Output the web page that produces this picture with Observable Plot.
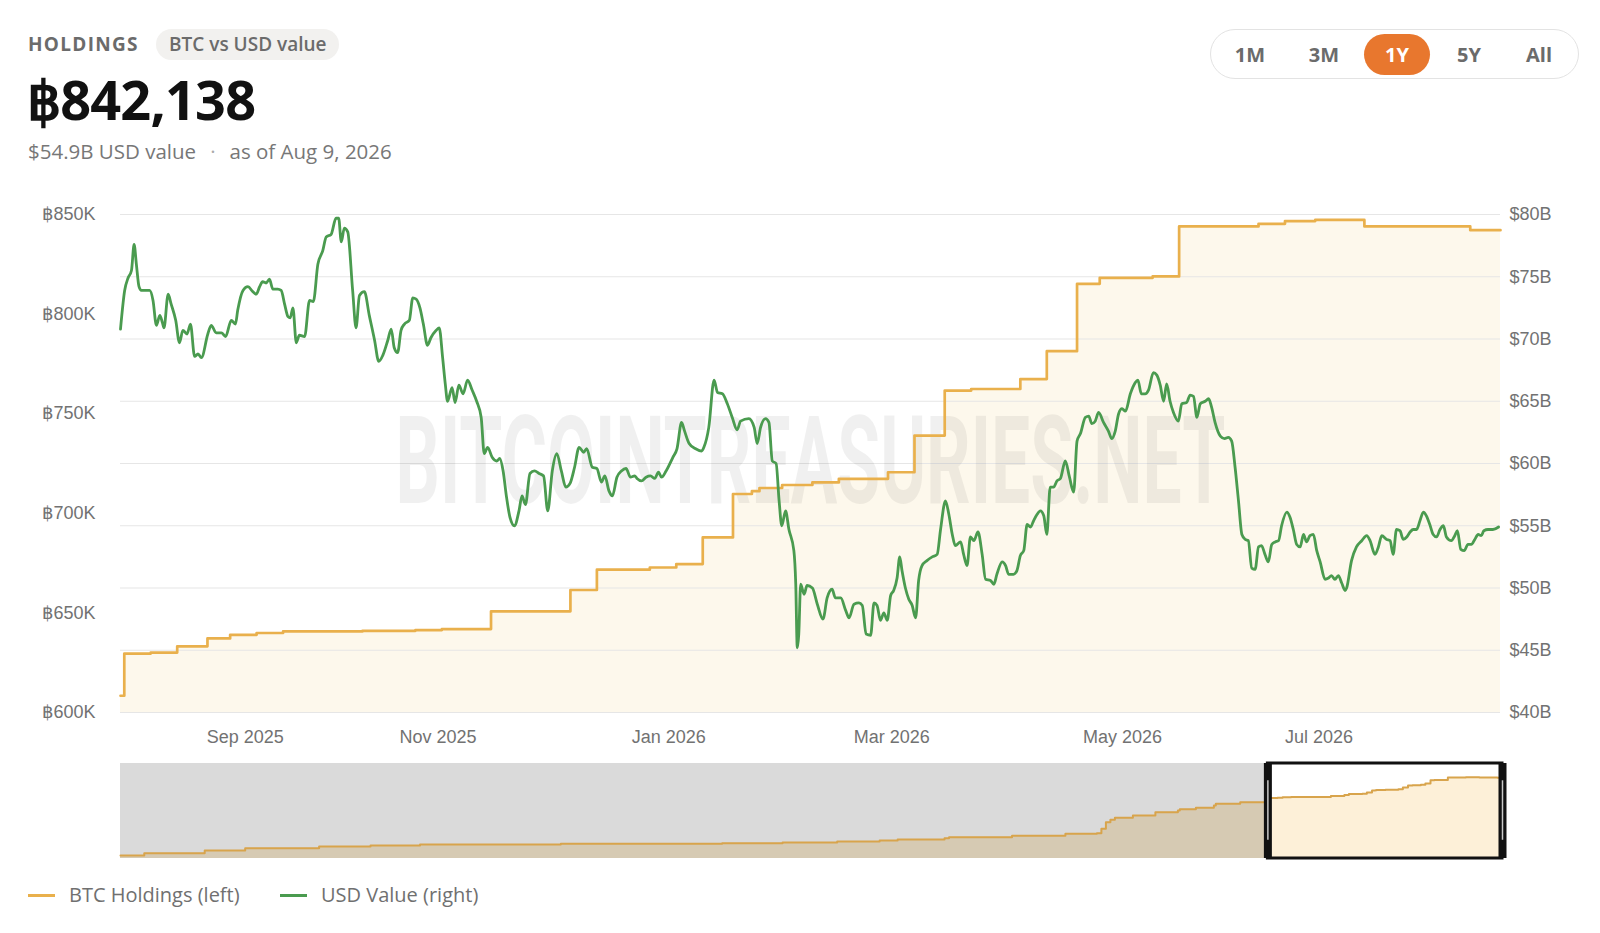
<!DOCTYPE html>
<html><head><meta charset="utf-8">
<script src="https://cdn.jsdelivr.net/npm/d3@7"></script>
<script src="https://cdn.jsdelivr.net/npm/@observablehq/plot@0.6"></script>
<style>
body{margin:0;background:#fff;}
#root{position:relative;width:1600px;height:933px;overflow:hidden;font-family:"Open Sans",sans-serif;}
.abs{position:absolute;white-space:nowrap;line-height:1;}
#main,#nav{position:absolute;left:0;}
#main{top:0;} #nav{top:750px;}
</style></head><body><div id="root"><div id="main"></div><div id="nav"></div></div>
<script>
// ---------- DATA ----------
const headline = { holdings: "฿842,138", usdValue: "$54.9B USD value", asOf: "as of Aug 9, 2026" };
const rangeButtons = ["1M", "3M", "1Y", "5Y", "All"];
const activeRange = "1Y";
const legendItems = ["BTC Holdings (left)", "USD Value (right)"];
const watermark = "BITCOINTREASURIES.NET";

// BTC holdings (step changes), 1Y window
const btcDates = ["2025-08-09","2025-08-10","2025-08-17","2025-08-24","2025-09-01","2025-09-07","2025-09-14","2025-09-21",
  "2025-10-12","2025-10-26","2025-11-02","2025-11-15","2025-12-06","2025-12-13","2025-12-27","2026-01-03","2026-01-10",
  "2026-01-18","2026-01-23","2026-01-25","2026-01-31","2026-02-08","2026-02-15","2026-02-28","2026-03-07","2026-03-15",
  "2026-03-22","2026-04-04","2026-04-11","2026-04-19","2026-04-25","2026-05-09","2026-05-16","2026-06-06","2026-06-13",
  "2026-06-21","2026-07-04","2026-08-01","2026-08-09"];
const btcHoldings = [608400,629600,630100,633200,637200,639000,639900,640700,
  641000,641400,641900,650800,661500,671700,672800,674500,687900,
  709700,711100,712700,714200,715500,717300,720600,739000,761600,
  762400,767400,781400,815200,818200,818900,844000,845300,846700,
  847300,844000,842138,842138];

// USD value of holdings (billions), days since 2025-08-09
const usdStartDate = "2025-08-09";
const usdDays = [0,1.1,2,2.9,3.6,4.2,4.9,5.5,7.7,8.6,9.5,10.4,11.1,11.5,12.6,13.4,14.6,15.6,16.5,17.6,18.5,19.6,20.5,21.4,
  23.1,24,25.3,26.7,27.8,29.3,30.4,31,32.4,33.7,35,35.9,36.8,37.6,38.5,39.4,40.3,41.6,42.5,43.4,44.3,44.9,45.6,46.5,47.3,
  48.7,50,51,52.2,53.5,54.4,55.7,57,57.7,58.4,59.2,60.1,61.4,62.3,63.2,64.5,65.8,67.2,68.3,69.4,70.7,71.6,72.4,73.3,74.2,
  75.1,76.4,77.3,78.2,79.2,80.1,81.2,82.1,83.5,84.3,85.2,85.9,86.5,87.7,88.5,89.5,90.6,91.8,93,94.2,95.4,96.2,97.1,98.3,
  99.5,100.3,101.2,102.1,103,104.2,105.4,106.2,107.1,108.3,109.5,110.7,111.9,113,114.2,115.4,116.6,117.8,118.9,120.1,
  121.3,122.5,123.3,124.8,126,127.2,128.1,129.2,130.1,131.3,132.5,133.7,134.9,136,136.6,137.8,139,140.2,141.3,142.3,
  143.1,144.3,146.1,147.2,148.4,149.2,150.4,152,153.7,154.3,155.6,157,157.9,159.2,160.5,161.8,163.1,164,166.2,167.6,
  168.4,169.3,170.6,171.5,172.4,173.4,174.2,174.9,175.9,176.8,178.1,178.6,179,179.4,179.9,180.8,181.6,183,184.3,185.8,
  186.9,188.2,189.1,190.5,191.8,192.7,194,195.3,196.2,197.2,198.4,199.3,200.1,201,201.9,202.8,203.7,204.5,205.4,206.1,
  206.7,207.6,208.5,209.4,210.3,211.1,212,213.3,214.7,216,216.9,218.2,219.1,220,220.8,222.2,223,223.9,224.8,225.7,226.8,
  227.9,228.8,230.1,231,231.8,233.2,234.1,234.9,236.2,237.1,238,238.9,239.8,240.7,241.5,242.4,243.3,244.2,245,245.9,
  246.8,247.7,248.6,249.9,251,252.1,253,253.9,255.2,256.1,256.9,257.8,258.7,260,261.3,262.2,263.1,264,264.9,265.8,267.1,
  268.4,269.1,270,271,271.9,273.2,274.1,275,275.9,276.7,277.6,278.5,279.8,280.7,282,282.9,283.8,284.7,285.6,286.9,287.8,
  288.6,289.5,290.9,292,293,293.9,294.8,295.7,296.6,297.5,298.3,299.2,300.1,301,301.8,302.7,303.6,304.5,305.4,306.3,
  307.1,308.5,309.3,310.2,311.1,312,312.9,313.7,314.6,315.5,316.4,317.3,318.6,319.5,320.3,321.2,322.1,323,323.9,324.3,
  325.6,326.9,328.3,329.6,330.5,331.8,332.7,333.6,334.9,335.8,336.6,337.5,338.4,339.3,340.2,341.1,341.9,342.8,343.7,
  344.6,345.4,346.3,347.2,348.1,349,349.9,350.7,352,352.9,353.6,354.5,355.4,356.4,357.3,358.2,359.1,359.9,360.6,361.7,
  363,364.5];
const usdValues = [70.8,73.9,74.9,75.5,77.6,76,74.2,73.9,73.9,73.1,71.1,71.9,71.3,70.9,73.6,72.8,71.5,69.7,70.7,70.4,71.2,68.6,68.8,68.5,
  70.4,71.1,70.5,70.5,70.2,71.5,71.2,72.3,73.9,74.2,73.8,73.6,74.2,74.6,74.5,74.8,74,74,73.9,72.8,71.8,71.7,72.5,69.7,70.3,
  70.2,73.1,73,76,77.1,78.2,78.4,79.7,79.7,77.8,78.9,78.6,73.9,70.9,73.5,73.8,71.9,69.9,68.2,68.7,69.9,70.8,69.3,68.9,70.7,
  71.2,71.5,73.3,73.2,72.5,71.2,69.5,70.1,70.7,70.9,68.5,66.4,65,66.1,64.9,66.3,65.6,66.7,65.9,65,63.7,60.8,61.3,60.5,
  60.2,60.4,59.4,57.3,55.7,55,56.2,57.4,56.7,59.2,59.4,59.2,59,56.2,59.4,60.8,59.4,58.1,58.4,59.7,
  61.3,60.9,61.2,59.7,59.6,58.5,59,57.8,57.4,58.9,59.4,59.6,58.9,59,58.8,58.6,58.9,59,58.8,59.3,
  58.9,59.4,60.5,61.2,63.3,62.6,61.6,61.2,61,61.3,62.9,66.7,65.7,65.6,64.8,63.7,62.7,63.4,63.6,62.9,
  61.6,62.9,63.6,63.3,60.2,60,57,55,56.2,54.7,53,50.3,45.2,46.3,50.3,49.5,50.2,50,48.7,47.5,
  49.2,49.9,49.2,49.2,48.2,47.6,48.7,48.8,48.6,46.3,46.2,48.8,48.6,47.4,48,47.4,49.4,49.8,50.8,52.5,
  51.4,50,49.1,48.6,47.6,50.6,51.8,52.2,52.5,52.7,54.7,57,55.9,54.3,53.4,53.7,52.7,51.8,54.1,53.8,54.5,
  52.7,50.7,50.6,50.3,51.1,52.1,51.8,51.1,51.1,51.4,52.6,53,55.1,54.9,55.4,55.9,56.2,55.8,54.3,58.1,
  58.1,58.6,58.8,60.2,58.9,57.7,61.8,62.4,63.7,63.8,63.2,63.4,64.1,63.3,62.6,62,62.6,64,64.4,64.2,65.6,
  66.5,66.7,65.6,65.6,65.9,67.3,67.1,66.3,65,66.4,65,64.1,63.4,64.8,64.9,65.5,65.4,63.7,64.8,65,65.2,
  64.5,63.3,62.2,62,62.1,61.8,59.7,57,54.3,53.9,53.8,51.6,51.5,53.3,53.4,52.7,52.1,53.5,53.7,53.8,
  55,56.1,55.7,54.7,53.5,53.3,54.3,53.7,54.2,54.3,53,52.1,50.7,50.8,51,50.7,51,50.4,49.8,50,
  52.2,53.3,53.8,54.2,53.8,52.7,53.3,54.2,53.9,53.8,52.7,54.7,54.6,53.9,54.1,54.5,54.7,54.7,55.4,
  56.1,55.8,55.1,54.3,54.1,54.7,55,54.1,53.8,54.2,54.6,53.1,53,53.5,53.5,53.9,54.3,54.2,54.6,54.7,
  54.7,54.9];

// Navigator: full holdings history before the 1Y window
const navDates = ["2020-09-19","2020-10-26","2021-01-28","2021-04-01","2021-07-25","2021-10-13","2021-12-29","2022-08-05",
  "2023-04-13","2023-07-16","2023-10-09","2023-12-14","2024-01-11","2024-03-24","2024-03-31","2024-07-07","2024-09-28",
  "2024-11-16","2024-11-23","2024-11-30","2024-12-07","2024-12-14","2025-01-11","2025-02-15","2025-03-22","2025-03-25",
  "2025-04-19","2025-05-17","2025-05-20","2025-06-27"];
const navHoldings = [31000,55000,83000,107000,125000,136000,146000,153000,
  160000,168000,176000,188000,198000,212000,222000,237000,258000,
  264000,310000,379000,404000,424000,448000,483000,501000,514000,
  529000,553000,571000,587000];

const usdTicks = [40,45,50,55,60,65,70,75,80];
const btcTicks = [600000,650000,700000,750000,800000,850000];
const xTickDates = ["2025-09-11","2025-11-01","2026-01-01","2026-03-01","2026-05-01","2026-06-22"];
const xTickLabels = ["Sep 2025","Nov 2025","Jan 2026","Mar 2026","May 2026","Jul 2026"];

// ---------- BUILD ----------
const DAY = 864e5;
const start = new Date(usdStartDate);
const end = new Date("2026-08-09");
const btcData = btcDates.map((d, i) => ({date: new Date(d), btc: btcHoldings[i]}));
const usdData = usdDays.map((d, i) => ({date: new Date(+start + d * DAY), usd: usdValues[i]}));
const toEq = b => 40 + (b - 600000) * 40 / 250000;
const fromEq = v => 600000 + (v - 40) * 250000 / 40;
const labelMap = new Map(xTickDates.map((d, i) => [+new Date(d), xTickLabels[i]]));

const C_BTC = "#e9b04c", C_USD = "#4a9b4f";

const main = Plot.plot({
  width: 1600, height: 760, marginTop: 214, marginBottom: 48, marginLeft: 120, marginRight: 100,
  style: {background: "transparent", fontFamily: "'Liberation Sans', Arial, sans-serif", fontSize: "18px", color: "#727272", overflow: "visible"},
  x: {type: "utc", domain: [start, end]},
  y: {domain: [40, 80]},
  marks: [
    Plot.areaY(btcData, {x: "date", y1: 40, y2: d => toEq(d.btc), curve: "step-after", fill: "#fdf8ec"}),
    Plot.gridY(usdTicks, {stroke: "#e6e6e6", strokeOpacity: 1, strokeWidth: 1.2}),
    Plot.text([watermark], {text: d => d, frameAnchor: "middle", fontSize: 122, fontWeight: 700, fontFamily: "Roboto", fill: "#000", fillOpacity: 0.06}),
    Plot.line(btcData, {x: "date", y: d => toEq(d.btc), curve: "step-after", stroke: C_BTC, strokeWidth: 2.7}),
    Plot.line(usdData, {x: "date", y: "usd", curve: "monotone-x", stroke: C_USD, strokeWidth: 2.8, strokeLinejoin: "round"}),
    Plot.axisX(xTickDates.map(d => new Date(d)), {tickSize: 0, tickPadding: 18, tickFormat: d => labelMap.get(+d), label: null}),
    Plot.axisY(btcTicks.map(toEq), {anchor: "left", tickSize: 0, tickPadding: 25, tickFormat: v => "฿" + Math.round(fromEq(v) / 1000) + "K", label: null}),
    Plot.axisY(usdTicks, {anchor: "right", tickSize: 0, tickPadding: 9, tickFormat: v => "$" + v + "B", label: null})
  ]
});
document.getElementById("main").appendChild(main);
// condense the watermark horizontally to its target width
d3.select(main).selectAll("text").filter(function () { return this.textContent === watermark; })
  .each(function () {
    const bb = this.getBBox();
    const cx = bb.x + bb.width / 2;
    const sx = 830 / bb.width;
    const t = this.getAttribute("transform") || "";
    this.setAttribute("transform", `${t} translate(${cx},0) scale(${sx},1) translate(${-cx},0)`);
  });

// Navigator
const navStart = new Date(navDates[0]);
const navHist = navDates.map((d, i) => ({date: new Date(d), btc: navHoldings[i]}));
const navBefore = navHist.concat([{date: start, btc: btcHoldings[0]}]);
const navAll = navHist.concat(btcData);
const navTop = 990000;
const nav = Plot.plot({
  width: 1600, height: 120, marginTop: 13, marginBottom: 12, marginLeft: 120, marginRight: 98,
  style: {background: "transparent", overflow: "visible"},
  x: {type: "utc", domain: [navStart, end], axis: null},
  y: {domain: [0, navTop], axis: null},
  marks: [
    Plot.rect([0], {x1: () => navStart, x2: () => start, y1: 0, y2: navTop, fill: "#dadada"}),
    Plot.areaY(navBefore, {x: "date", y1: 0, y2: "btc", curve: "step-after", fill: "#d6cab3"}),
    Plot.areaY(btcData, {x: "date", y1: 0, y2: "btc", curve: "step-after", fill: "#fdf0d8"}),
    Plot.line(navAll, {x: "date", y: "btc", curve: "step-after", stroke: "#d8a44c", strokeWidth: 2}),
    Plot.rect([0], {x1: () => start, x2: () => end, y1: 0, y2: navTop, fill: "none", stroke: "#111", strokeWidth: 3}),
    Plot.ruleX([start, end], {y1: 0, y2: navTop, stroke: "#111", strokeWidth: 8}),
    Plot.ruleX([start, end], {y1: 190000, y2: 810000, stroke: "#c9c9c9", strokeWidth: 1.5})
  ]
});
document.getElementById("nav").appendChild(nav);

// Header + controls + legend (HTML)
const root = document.getElementById("root");
function add(html) { root.insertAdjacentHTML("beforeend", html); }
add(`<div class="abs" style="left:28px;top:35px;font-size:19px;font-weight:700;letter-spacing:1.3px;color:#6b6b6b">HOLDINGS</div>`);
add(`<div class="abs" style="left:156px;top:29px;height:31px;line-height:31px;padding:0 13px;border-radius:16px;background:#f2f1ef;font-size:19px;font-weight:600;color:#6b6b6b">BTC vs USD value</div>`);
add(`<div class="abs" style="left:27px;top:72px;font-size:54px;font-weight:700;letter-spacing:-0.8px;color:#111">${headline.holdings}</div>`);
add(`<div class="abs" style="left:28px;top:141px;font-size:20.5px;color:#777">${headline.usdValue}<span style="margin:0 14px;color:#aaa">·</span>${headline.asOf}</div>`);
add(`<div class="abs" style="left:1210px;top:29px;width:367px;height:48px;border:1.5px solid #e3e3e3;border-radius:26px"></div>`);
const btnCenters = [1250, 1324, 1397, 1469, 1539];
rangeButtons.forEach((b, i) => {
  const active = b === activeRange;
  if (active) add(`<div class="abs" style="left:${btnCenters[i]-33}px;top:34px;width:66px;height:41px;border-radius:21px;background:#e8772e"></div>`);
  add(`<div class="abs" style="left:${btnCenters[i]-30}px;top:45px;width:60px;text-align:center;font-size:20px;font-weight:700;color:${active ? "#fff" : "#6b6b6b"}">${b}</div>`);
});
const legendX = [[28, 69], [280, 321]];
const legendC = [C_BTC, C_USD];
legendItems.forEach((t, i) => {
  add(`<div class="abs" style="left:${legendX[i][0]}px;top:894px;width:27px;height:3px;background:${legendC[i]}"></div>`);
  add(`<div class="abs" style="left:${legendX[i][1]}px;top:885px;font-size:20px;color:#707070">${t}</div>`);
});
</script></body></html>
